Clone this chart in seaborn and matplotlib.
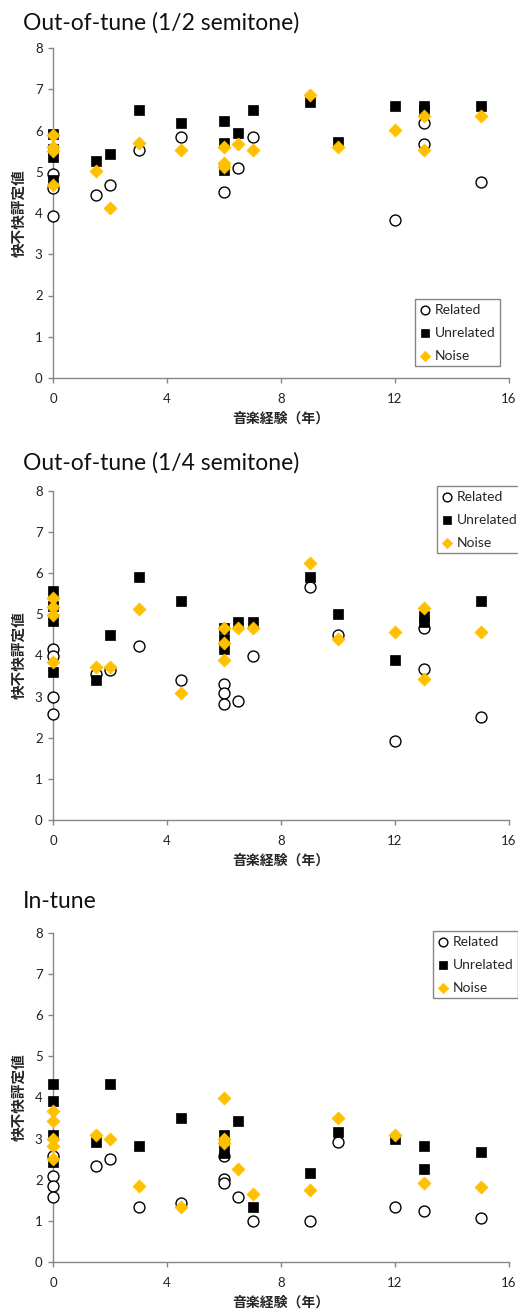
import matplotlib
matplotlib.use("Agg")
import matplotlib.pyplot as plt
import seaborn as sns
import pandas as pd

# ---------------- data ----------------
xticks = [0, 4, 8, 12, 16]
yticks = [0, 1, 2, 3, 4, 5, 6, 7, 8]
titles = ["Out-of-tune (1/2 semitone)", "Out-of-tune (1/4 semitone)", "In-tune"]
series_names = ["Related", "Unrelated", "Noise"]
xlabel = "音楽経験（年）"
ylabel = "快不快評定値"

# Panel 1: 1/2 semitone
half_rel_x = [0, 0, 0, 1.5, 2, 3, 4.5, 6, 6.5, 7, 12, 13, 13, 15]
half_rel_y = [4.95, 4.6, 3.92, 4.43, 4.68, 5.52, 5.84, 4.52, 5.1, 5.84, 3.84, 6.17, 5.67, 4.75]
half_unr_x = [0, 0, 0, 0, 1.5, 2, 3, 4.5, 6, 6, 6, 6.5, 7, 9, 10, 12, 13, 13, 15]
half_unr_y = [5.92, 5.55, 5.36, 4.81, 5.27, 5.44, 6.5, 6.18, 6.22, 5.69, 5.05, 5.94, 6.5, 6.7, 5.71, 6.6, 6.6, 6.5, 6.6]
half_noi_x = [0, 0, 0, 0, 1.5, 2, 3, 4.5, 6, 6, 6, 6.5, 7, 9, 10, 12, 13, 13, 15]
half_noi_y = [5.9, 5.6, 5.5, 4.69, 5.01, 4.12, 5.69, 5.52, 5.6, 5.21, 5.11, 5.68, 5.52, 6.85, 5.61, 6.02, 6.34, 5.52, 6.34]

# Panel 2: 1/4 semitone
quar_rel_x = [0, 0, 0, 0, 1.5, 2, 3, 4.5, 6, 6, 6, 6.5, 7, 9, 10, 12, 13, 13, 15]
quar_rel_y = [4.16, 4.0, 3.0, 2.57, 3.55, 3.65, 4.24, 3.4, 3.31, 3.08, 2.82, 2.9, 4.0, 5.66, 4.51, 1.91, 4.66, 3.66, 2.5]
quar_unr_x = [0, 0, 0, 0, 1.5, 2, 3, 4.5, 6, 6, 6, 6.5, 7, 9, 10, 12, 13, 13, 15]
quar_unr_y = [5.57, 5.2, 4.83, 3.59, 3.41, 4.5, 5.91, 5.33, 4.66, 4.4, 4.16, 4.82, 4.82, 5.91, 5.0, 3.9, 4.95, 4.82, 5.33]
quar_noi_x = [0, 0, 0, 0, 1.5, 2, 3, 4.5, 6, 6, 6, 6.5, 7, 9, 10, 12, 13, 13, 15]
quar_noi_y = [5.41, 5.17, 4.98, 3.83, 3.73, 3.73, 5.14, 3.08, 4.66, 4.3, 3.9, 4.66, 4.66, 6.25, 4.41, 4.57, 5.16, 3.42, 4.57]

# Panel 3: in-tune
intu_rel_x = [0, 0, 0, 0, 1.5, 2, 3, 4.5, 6, 6, 6, 6.5, 7, 9, 10, 12, 13, 15]
intu_rel_y = [2.58, 2.08, 1.84, 1.59, 2.34, 2.5, 1.33, 1.43, 2.58, 2.02, 1.92, 1.58, 1.0, 1.0, 2.91, 1.33, 1.25, 1.08]
intu_unr_x = [0, 0, 0, 0, 1.5, 2, 3, 4.5, 6, 6, 6, 6.5, 7, 9, 10, 12, 13, 13, 15]
intu_unr_y = [4.33, 3.92, 3.08, 2.42, 2.93, 4.33, 2.83, 3.5, 3.08, 2.9, 2.65, 3.43, 1.33, 2.16, 3.17, 3.0, 2.83, 2.26, 2.67]
intu_noi_x = [0, 0, 0, 0, 0, 1.5, 2, 3, 4.5, 6, 6, 6, 6.5, 7, 9, 10, 12, 13, 15]
intu_noi_y = [3.66, 3.42, 3.0, 2.83, 2.5, 3.09, 3.0, 1.84, 1.33, 4.0, 3.0, 2.89, 2.26, 1.66, 1.75, 3.5, 3.09, 1.92, 1.83]

panels = [
    [(half_rel_x, half_rel_y), (half_unr_x, half_unr_y), (half_noi_x, half_noi_y)],
    [(quar_rel_x, quar_rel_y), (quar_unr_x, quar_unr_y), (quar_noi_x, quar_noi_y)],
    [(intu_rel_x, intu_rel_y), (intu_unr_x, intu_unr_y), (intu_noi_x, intu_noi_y)],
]

# ---------------- style ----------------
sns.set_theme(style="white")
plt.rcParams["font.family"] = ["Lato", "Noto Sans CJK JP", "DejaVu Sans"]
GRAY = "#868686"
GOLD = "#FFC000"

W, H = 518, 1313
fig = plt.figure(figsize=(W / 100, H / 100), dpi=100)

# axes placements in pixels: (left, top, right, bottom)
ax_px = [(53, 48, 509, 378), (53, 491, 509, 820), (53, 933, 509, 1262)]
title_px = [(23, 30), (23, 470), (23, 908)]
legend_px = [(415, 299), (437, 486), (433, 931)]

styles = [
    dict(marker="o", s=62, facecolor="white", edgecolor="black", linewidth=1.0),
    dict(marker="s", s=62, facecolor="black", edgecolor="black", linewidth=0.5),
    dict(marker="D", s=44, facecolor=GOLD, edgecolor=GOLD, linewidth=0.5),
]

for i, data in enumerate(panels):
    l, t, r, b = ax_px[i]
    ax = fig.add_axes([l / W, 1 - b / H, (r - l) / W, (b - t) / H])
    for name, (xs, ys), st in zip(series_names, data, styles):
        df = pd.DataFrame({"x": xs, "y": ys})
        sns.scatterplot(data=df, x="x", y="y", ax=ax, label=name, zorder=3,
                        clip_on=False, **st)
    ax.set_xlim(0, 16)
    ax.set_ylim(0, 8)
    ax.set_xticks(xticks)
    ax.set_yticks(yticks)
    for side in ["top", "right"]:
        ax.spines[side].set_visible(False)
    for side in ["left", "bottom"]:
        ax.spines[side].set_color(GRAY)
        ax.spines[side].set_linewidth(1.0)
        ax.spines[side].set_zorder(1)
    ax.tick_params(axis="both", which="both", direction="out", length=3.5, width=1.0,
                   color=GRAY, labelsize=9.5, labelcolor="#222222")
    ax.tick_params(axis="x", pad=7, bottom=True)
    ax.tick_params(axis="y", pad=4, left=True)
    ax.set_xlabel(xlabel, fontsize=10, fontweight="bold", labelpad=5,
                  family=["Noto Sans CJK JP", "DejaVu Sans"])
    ax.set_ylabel(ylabel, fontsize=10.5, fontweight="bold", labelpad=6,
                  family=["Noto Sans CJK JP", "DejaVu Sans"])
    ax.grid(False)
    ax.set_facecolor("white")

    lx, ly = legend_px[i]
    leg = ax.legend(loc="upper left", bbox_to_anchor=(lx / W, 1 - ly / H),
                    bbox_transform=fig.transFigure, frameon=True, fancybox=False,
                    edgecolor=GRAY, fontsize=10, markerscale=0.8,
                    handlelength=0.8, handletextpad=0.25, labelspacing=0.78,
                    borderpad=0.35, borderaxespad=0.0, framealpha=1.0)
    leg.get_frame().set_linewidth(1.0)
    leg.set_zorder(5)

    tx, ty = title_px[i]
    fig.text(tx / W, 1 - ty / H, titles[i], fontsize=16.5, ha="left", va="baseline",
             color="#111111")

fig.savefig("out.png", dpi=100)
